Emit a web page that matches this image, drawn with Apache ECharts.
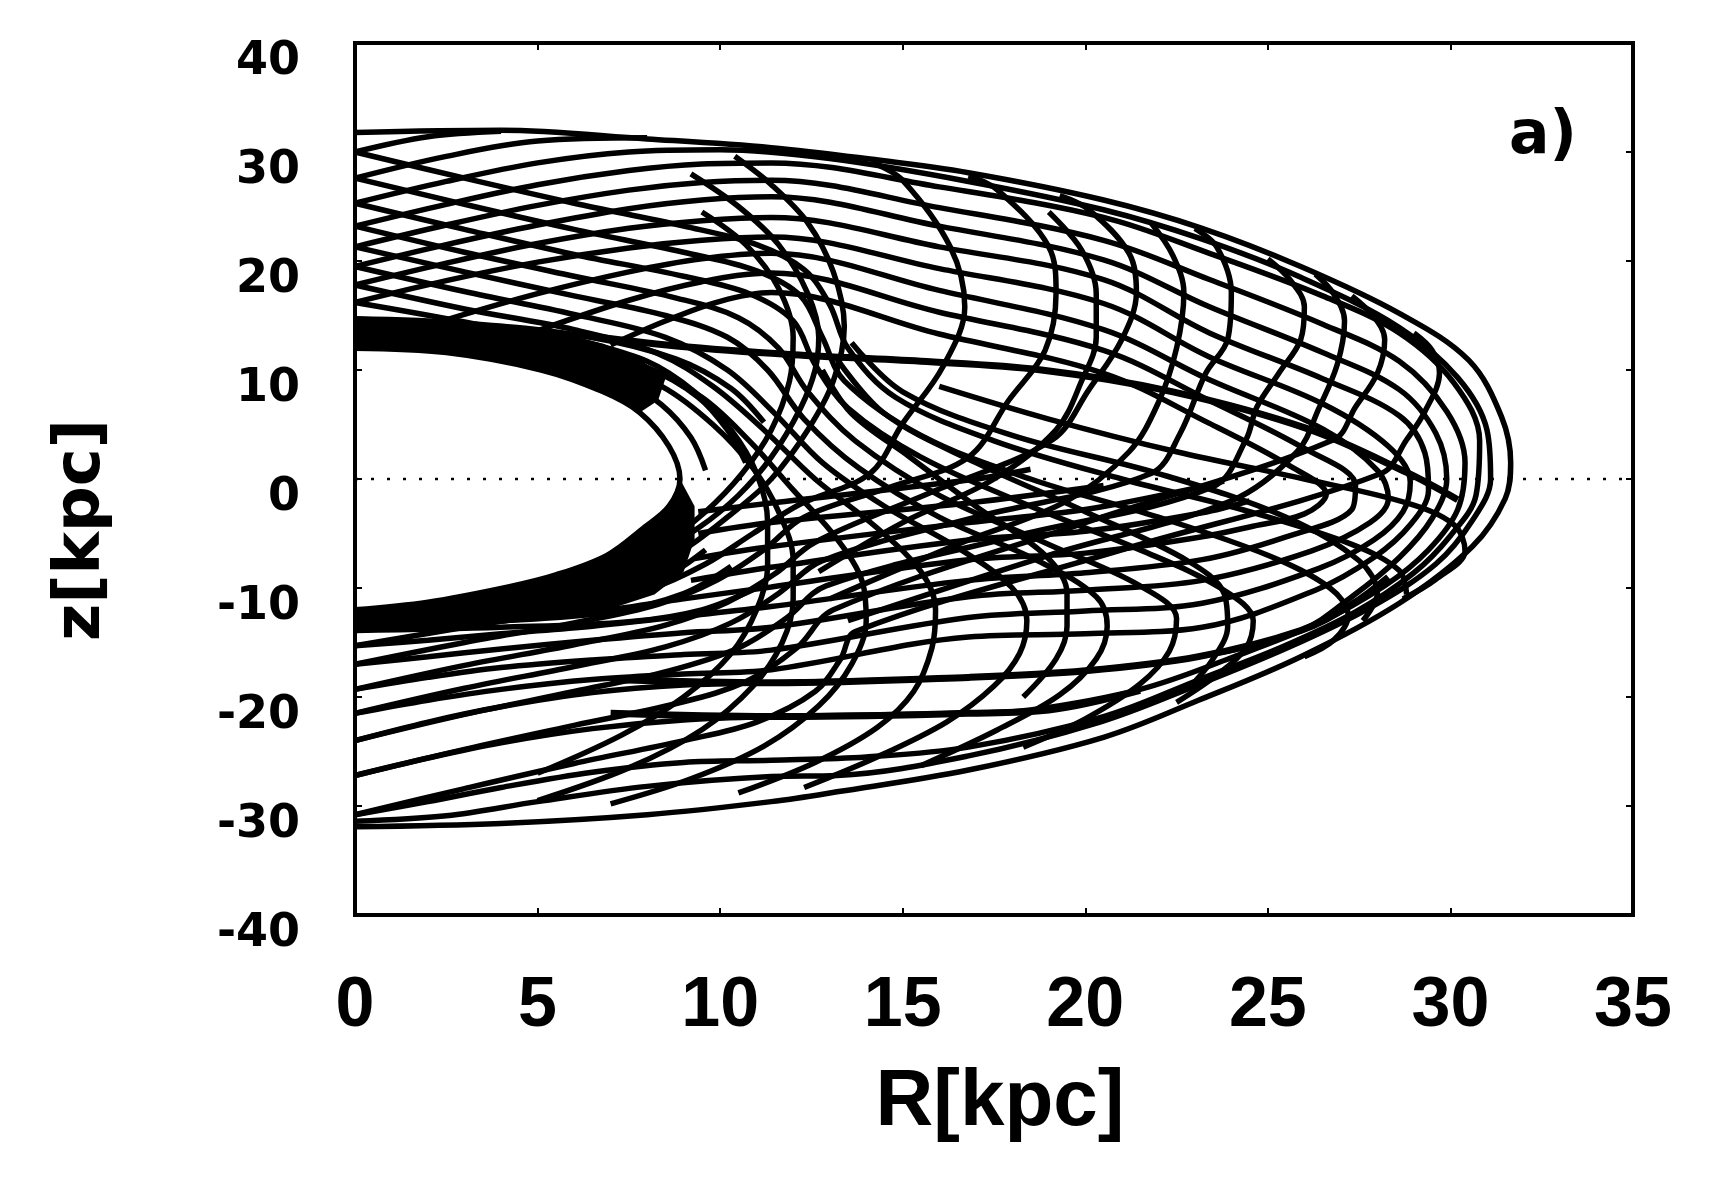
<!DOCTYPE html>
<html>
<head>
<meta charset="utf-8">
<script src="https://cdn.jsdelivr.net/npm/echarts/dist/echarts.min.js"></script>
<style>
html,body{margin:0;padding:0;background:#fff;}
#container{width:1713px;height:1182px;}
</style>
</head>
<body>
<div id="container"></div>
<script>
// tick labels
var xTicks = [0, 5, 10, 15, 20, 25, 30, 35];
var yTicks = [-40, -30, -20, -10, 0, 10, 20, 30, 40];

// dotted z = 0 line
var zeroLine = [[0, 0], [35, 0]];

// outer envelope of the orbit and the curve just inside it
var envelope = [[0,31.8],[4,32.0],[8,31.2],[11.4,30.4],[14,29.4],[16.8,28.1],[20.5,25.6],[23.2,23.0],[25.9,19.5],[28.6,15.2],[30.5,10.9],[31.4,5.7],[31.65,1.5],[31.5,-1.8],[30.6,-6.2],[28.6,-11.4],[25.9,-16.3],[23.1,-20.3],[20.5,-23.7],[16.8,-26.7],[13.2,-28.7],[11.4,-29.6],[8,-30.8],[4,-31.6],[0,-31.9]];
var envelope2 = [[0,25.3],[2.5,27.3],[5,29.0],[7.5,30.0],[10,30.2],[13,29.4],[16.8,27.3],[20.5,24.7],[23.2,22.0],[25.9,18.5],[28.6,13.9],[30.2,9.3],[31.0,4.5],[31.1,0],[30.6,-3.8],[29.6,-7.8],[27.8,-11.8],[25.6,-15.4],[23.0,-19.0],[20.4,-22.3],[16.8,-25.4],[13.2,-27.2],[11.4,-27.3],[8,-28.2],[5,-29.6],[2.5,-30.9],[0,-31.4]];
var topArm1 = [[0,27.6],[2.5,29.6],[5,31.0],[8,31.3]];
var topArm2 = [[0,30.0],[2,31.4],[4,31.9]];

// inner caustic, the solid dark zones along it and the strands packed there
var caustic = [[0,12.0],[2.5,11.6],[5.1,10.0],[6.8,8.0],[7.8,6.1],[8.6,3],[8.9,0],[8.6,-2.5],[7.9,-4.5],[6.9,-7.0],[5.5,-8.8],[4.2,-9.9],[2,-11.3],[0,-12.0]];
var darkUpper = [[0,14.9],[2,14.7],[4,14.2],[5.5,13.5],[6.8,12.4],[7.8,11.0],[8.5,9.2],[8.3,7.2],[7.8,6.1],[6.8,8.0],[5.1,10.0],[2.5,11.6],[0,12.0]];
var darkLower = [[8.9,0],[8.6,-2.5],[7.9,-4.5],[6.9,-7.0],[5.5,-8.8],[4.2,-9.9],[2,-11.3],[0,-12.0],[0,-13.9],[2,-13.7],[3.7,-13.4],[5.5,-12.8],[7,-11.9],[8.2,-10.6],[9.0,-8.5],[9.3,-5.5],[9.3,-2.5]];
var band1 = [[0,12.9],[3,12.5],[5.6,11.1],[7.3,9.1],[8.4,6.8],[9.2,3.8],[9.6,0.8]];
var band2 = [[0,13.8],[3,13.4],[6,12.1],[8,10.2],[9.4,7.5],[10.2,4.5],[10.7,1.5]];
var band3 = [[0,14.7],[3,14.3],[6.3,13.1],[8.8,11.0],[10.3,8.3],[11.2,5.2]];
var wedge1 = [[0,-12.3],[3,-11.0],[5.5,-9.2],[7.3,-6.8],[8.4,-4]];
var wedge2 = [[0,-12.7],[3,-11.8],[6,-10.2],[7.8,-8],[9,-5]];
var wedge3 = [[0,-13.1],[3,-12.5],[6,-11.3],[8.3,-9.3],[9.6,-6.5]];
var wedge4 = [[0,-13.5],[4,-13.0],[7,-12.2],[9,-10.5],[10.3,-8]];
var wedge5 = [[0,-13.9],[4,-13.6],[7.5,-13.1],[9.5,-12],[11,-10]];

// C shaped curves: upper left arm, upper strands to the tip, lower strands back
var c1 = [[0,23.2],[2.5,25.2],[5,27.0],[7.5,28.3],[9.5,28.9],[11.4,29.0],[16,26.8],[20.5,24.0],[23.4,20.7],[26.5,16.8],[28.6,13.4],[30.1,8.8],[30.8,3.5],[30.7,-1.5],[30.0,-5.2],[29.0,-8.6],[27.4,-12.2],[25.4,-15.4],[23.2,-18.3],[20.5,-21.8],[16.8,-24.6],[14,-25.5],[11.4,-25.8],[9,-26.0],[6.5,-26.9],[4,-28.3],[2,-29.6],[0,-30.8]];
var c2 = [[0,21.3],[2.5,23.3],[5,25.1],[7.5,26.5],[9.5,27.2],[11.4,27.4],[16,24.9],[20.5,21.9],[23.4,18.3],[26.5,14.2],[28.6,10.8],[29.9,6.2],[30.4,1.5],[30.2,-2.8],[29.4,-6.5],[28.2,-9.8],[26.4,-13.2],[24,-16.4],[21.5,-19.3],[18.5,-21.2],[16.8,-21.5],[11.4,-21.8],[9,-22.1],[6.5,-22.9],[4,-24.2],[2,-25.6],[0,-27.2]];
var c3 = [[0,19.5],[2.5,21.5],[5,23.3],[7.5,24.8],[9.5,25.6],[11.4,25.9],[16,23.2],[20.5,20.1],[23.4,15.8],[26.5,11.6],[28.6,8.2],[29.6,4.2],[29.9,0],[29.5,-3.6],[28.6,-7.2],[27.3,-10.8],[25.9,-13.9],[23.1,-16.3],[20,-17.6],[16.8,-18.2],[11.4,-18.7],[9,-18.9],[6.5,-19.6],[4,-20.9],[2,-22.3],[0,-24.0]];
var c4 = [[0,17.8],[2.5,19.8],[5,21.6],[7.5,23.0],[9.5,23.7],[11.4,24.0],[16,21.3],[20.5,18.3],[23.4,13.4],[26.5,9.2],[28.6,5.8],[29.3,2.4],[29.4,-1],[28.9,-4.2],[27.9,-7.2],[26.3,-10.2],[23.2,-13.6],[20,-14.2],[16.8,-14.5],[11.4,-17.5],[9,-17.9],[6.5,-18.4],[4,-19.3],[2,-20.3],[0,-21.5]];
var c5 = [[0,16.2],[2.5,18.2],[5,19.9],[7.5,21.2],[9.5,21.9],[11.4,22.2],[16,19.3],[20.5,16.1],[23.4,11.2],[26.5,6.9],[28.3,3.0],[28.9,-0.3],[28.7,-3.0],[27.9,-5.6],[26.4,-8.2],[23.2,-11.4],[20,-12.1],[16.8,-12.7],[11.4,-15.7],[9,-16.1],[6.5,-16.6],[4,-17.3],[2,-18.2],[0,-19.3]];
var c6 = [[2.5,14.6],[5,17.0],[7.5,19.0],[9.5,20.2],[11.4,20.7],[16,17.3],[20.5,13.7],[23.4,9.1],[26.5,4.6],[28.0,0.8],[28.3,-1.8],[27.8,-4.0],[26.2,-6.6],[23.2,-9.3],[20,-10.2],[16.8,-10.8],[11.4,-13.6],[9,-14.1],[6.5,-14.8],[4,-15.6],[2,-16.3],[0,-17.0]];
var c7 = [[5,13.6],[7.5,16.4],[9.5,18.1],[11.4,18.9],[16,15.3],[20.5,11.8],[23.4,7.2],[26,2.8],[27.4,-0.6],[27.3,-2.8],[25.5,-5.3],[23.2,-7.4],[20,-8.6],[16.8,-9.3],[11.4,-11.7],[9,-12.6],[6.5,-13.5],[4,-14.2],[2,-14.8],[0,-15.3]];
var c8 = [[7,12.3],[8.5,14.5],[10,16.3],[11.4,17.1],[16,13.3],[20.5,9.7],[23.4,5.1],[25.6,1.2],[26.6,-1.4],[26.0,-3.2],[24.5,-4.4],[23.2,-5.3],[20,-6.8],[16.8,-7.4],[11.4,-9.9],[9,-11.0],[6.5,-12.2],[4,-12.9],[2,-13.4],[0,-13.9]];
var lowF = [[24.5,-2.0],[23.2,-3.1],[20,-4.8],[16.8,-5.6],[11.4,-8.1],[9.2,-9.3]];
var lowG = [[23.8,-0.2],[23.2,-0.7],[20,-2.8],[16.8,-4.0],[11.4,-6.2],[9.3,-7.3]];
var lowH = [[20.5,-0.6],[16.8,-2.2],[11.4,-4.0],[9.4,-5.0]];
var lowI = [[18.5,0.9],[16.8,-0.1],[11.4,-2.2],[9.4,-3.0]];

// heavier strands
var thickUp = [[6,13.3],[8.8,12.2],[12,11.4],[15.5,10.8],[18.8,10.0],[22.4,8.0],[26.1,4.6],[28.8,0.6],[30.2,-1.9]];
var thickLow1 = [[7,-18.4],[11.4,-18.7],[16.8,-18.2],[20,-17.6],[23.1,-16.3],[25.9,-13.9],[27.3,-11.5],[28.3,-9]];
var thickLow2 = [[7,-21.5],[11.4,-21.8],[16.8,-21.5],[19,-21.2],[21.5,-19.4]];

// strands from the upper left edge down to the lower hooks
var x0 = [[16,8.5],[19,5.5],[22.5,2.5],[26,0],[28.8,-2.2],[30.1,-4.2],[30.4,-6.6],[29.6,-9.2],[28.7,-11]];
var x1 = [[0,30.0],[3,27.6],[6,25.3],[9,23.2],[11,21.5],[12.3,19.2],[13,16],[13.5,12],[14.8,7.5],[17.5,3.5],[21,0],[24.5,-3],[27.3,-6],[28.6,-8.4],[28.8,-10.6]];
var x2 = [[0,27.6],[3,25.2],[6,22.9],[9,20.8],[11,19.1],[12.2,16.8],[12.8,13],[13.4,9],[15.5,4],[18.5,0],[22,-3.5],[25,-7],[26.7,-10],[27.2,-12.5],[26.8,-14.8],[26,-16.3]];
var x3 = [[0,25.3],[3,22.9],[6,20.6],[9,18.6],[10.8,17],[12,14.5],[12.6,10.5],[13.5,6.5],[15.5,2],[18.5,-2.5],[21.5,-6.5],[23.7,-10],[24.6,-13],[24.4,-15.5],[23.6,-18],[22.5,-20.5]];
var x4 = [[0,23.2],[3,20.8],[6,18.6],[8.8,16.6],[10.5,14.8],[11.6,12],[12.4,8],[13.7,3.5],[16,-1.5],[19,-6],[21.5,-9.8],[22.5,-12.8],[22.3,-15.8],[21.5,-18.8],[20,-22],[18.3,-24.6]];
var x5 = [[0,21.3],[3,19],[6,16.8],[8.5,15],[10.2,13],[11.3,10],[12.3,5.5],[13.8,1],[16,-3.5],[18.7,-7.5],[20.3,-10.8],[20.6,-13.5],[20.3,-16.5],[19.3,-19.8],[17.6,-23],[15.5,-26.3]];
var x6 = [[0,19.5],[3,17.2],[6,15.1],[8.5,13],[10.2,10],[11.5,6],[12.8,1.5],[14.5,-2.5],[16.6,-6.5],[18,-10],[18.4,-13],[18.2,-16],[17.5,-19],[16.2,-22.3],[14.3,-25.5],[12.3,-28.3]];
var x7 = [[0,17.8],[3,15.6],[6,13.7],[8.3,11.5],[9.8,8.5],[11.2,4.5],[12.6,0],[14.3,-4.5],[15.5,-8.5],[15.9,-12],[15.8,-15.5],[15.3,-19.5],[14.3,-22.8],[12.6,-26],[10.5,-28.8]];
var x8 = [[0,16.2],[3,14.4],[5.5,12.6],[7.8,10.5],[9.5,7.5],[10.8,3.5],[12,-1],[13.2,-5.5],[13.9,-9.5],[14.0,-13],[13.6,-17],[12.7,-20.8],[11.2,-24.5],[9.2,-27.5],[7,-29.8]];
var x9 = [[4,12.5],[6.5,11],[8.4,8.5],[9.8,5],[10.9,1],[11.6,-3],[12,-7.5],[12.0,-11],[11.7,-15],[10.9,-19],[9.5,-23],[7.5,-26.5],[5,-29.5]];
var x10 = [[6,12.8],[8,10.8],[9.3,8],[10.3,4.5],[11,0.5],[11.3,-4],[11.3,-8],[11,-12],[10.3,-16],[9,-20],[7.3,-23.5],[5,-27]];
var xa = [[12.8,10],[13.6,6],[15.2,2],[17,-2.5],[18.9,-7],[19.5,-10.5],[19.5,-13.5],[19.2,-16.5],[18.3,-20]];
var xb = [[13.2,11],[14.5,6],[17,1.5],[20,-3],[22.8,-7.5],[23.8,-10.5],[23.9,-13.5],[23.5,-16.5],[22.8,-19.3]];
var xc = [[13.6,12.5],[15,8],[18,4],[22,0.5],[25.5,-3.5],[27.5,-7.5],[28,-10.5],[27.6,-13]];

// strands from the lower left edge up to the upper hooks
var y0 = [[4,-10.5],[6.5,-8.8],[8.4,-6],[9.6,-3],[10.6,0.5],[11.4,4.5],[11.9,9],[12,13],[11.6,17.5],[10.7,21.5],[9.5,24.5]];
var y1 = [[6,-9.5],[8,-7.3],[9.4,-4.5],[10.5,-1.5],[11.4,2],[12.2,6.5],[12.6,10],[12.7,13],[12.4,17],[11.6,21.5],[10.5,25],[9.2,28]];
var y2 = [[0,-13.9],[3,-12.5],[5.5,-11],[7.6,-9],[9,-6.5],[10.2,-3.5],[11.4,0],[12.4,4.5],[13.1,9],[13.4,14],[13.1,19],[12.4,23.5],[11.4,27],[10.4,29.6]];
var y3 = [[0,-15.3],[3,-13.6],[5.8,-12],[8,-10.2],[9.6,-7.8],[10.9,-5],[12.2,-2.3],[14.1,0.5],[15.0,5.1],[16.1,10.3],[16.7,15.8],[16.3,21.3],[15.0,27.4],[14.2,29]];
var y4 = [[0,-17],[3,-15],[6,-13.2],[8.3,-11.5],[9.9,-9.3],[11.2,-6.5],[12.3,-3.5],[14.6,-0.8],[16.8,2],[17.9,7.2],[18.9,11.8],[19.2,17.1],[19.0,21.3],[17.6,26.5],[16.8,27.8]];
var y5 = [[0,-19.3],[3,-17.1],[6,-15.2],[8.5,-13.4],[10.2,-11.3],[11.5,-8.7],[12.6,-5.8],[15.8,-1.2],[19.1,3.6],[20.1,8.2],[21.0,12.8],[21.4,17.1],[21.2,20.7],[20.1,24.7],[19.3,26]];
var y6 = [[0,-21.5],[3,-19.2],[6,-17.2],[8.5,-15.4],[10.3,-13.2],[11.6,-10.5],[12.8,-7.5],[17,-3.5],[21.8,0.5],[22.6,4.2],[23.3,9.7],[23.9,12.8],[24.0,17.1],[23.6,21.3],[23.0,23.0]];
var y7 = [[0,-24],[3,-21.6],[6,-19.5],[8.6,-17.6],[10.5,-15.5],[11.8,-12.8],[12.9,-9.8],[18,-5.3],[23.5,-0.7],[24.4,3.6],[24.7,6.6],[25.3,9.7],[25.9,12.8],[26.0,15.8],[25.6,18.3],[25.0,20.2]];
var y8 = [[0,-27.2],[3,-24.8],[6,-22.6],[8.8,-20.6],[10.7,-18.6],[12.1,-15.5],[13.1,-12],[20,-4],[26.8,3.6],[27.4,6.6],[28.0,9.7],[28.2,12.8],[27.9,14.9],[27.3,16.8]];
var y9 = [[0,-30.8],[3,-28.4],[6,-26.1],[9,-24],[11,-22.3],[12.6,-19.5],[13.3,-16.5],[13.7,-14],[21,-6.5],[28.1,0.5],[28.8,3.6],[29.3,6.2],[29.7,9.7],[29.5,11.8],[29.0,13.4]];
var ya = [[12.7,-8.5],[15,-4],[17.5,0],[19.2,4.5],[19.9,9],[20.3,13],[20.3,17],[19.9,21],[19,24.5]];
var yb = [[13,-11],[16.5,-6],[19.5,-2],[21.2,2.5],[22,7],[22.5,12],[22.7,17.1],[22.4,20.5],[21.8,23.5]];
var yc = [[13.5,-13],[19,-7],[24,-2],[25.8,2.5],[26.4,6.5],[26.9,10.5],[27.1,14.5],[26.8,17],[26.3,18.8]];

var thinCurves = [envelope, envelope2, topArm1, topArm2, caustic, band1, band2, band3,
	wedge1, wedge2, wedge3, wedge4, wedge5,
	c1, c2, c3, c4, c5, c6, c7, c8, lowF, lowG, lowH, lowI,
	x0, x1, x2, x3, x4, x5, x6, x7, x8, x9, x10, xa, xb, xc,
	y0, y1, y2, y3, y4, y5, y6, y7, y8, y9, ya, yb, yc];
var thickCurves = [thickUp, thickLow1, thickLow2];
var darkZones = [darkUpper, darkLower];

function curve(pts, w){
	return {
		type: 'line', data: pts, smooth: 0.35, symbol: 'none', silent: true,
		clip: true, z: 3, lineStyle: {color: '#000', width: w}
	};
}
function zone(pts){
	return {
		type: 'custom', data: [0], silent: true, clip: true, z: 2,
		renderItem: function (params, api){
			return {type: 'polygon', shape: {points: pts.map(function (p){ return api.coord(p); })}, style: {fill: '#000'}};
		}
	};
}

var series = [{
	type: 'line', data: zeroLine, symbol: 'none', silent: true, z: 1,
	lineStyle: {color: '#000', width: 2.5, type: [3, 13]}
}];
darkZones.forEach(function (d){ series.push(zone(d)); });
thinCurves.forEach(function (c){ series.push(curve(c, 5.5)); });
thickCurves.forEach(function (c){ series.push(curve(c, 7)); });

var tickStyle = {show: true, inside: true, length: 7, lineStyle: {color: '#000', width: 2}};
function axis(kind, pos){
	var a = {type: 'value', position: pos, axisLine: {show: false, onZero: false}, axisTick: tickStyle, axisLabel: {show: false}, splitLine: {show: false}};
	if (kind == 'x') { a.min = 0; a.max = 35; a.interval = 5; }
	else { a.min = -40; a.max = 40; a.interval = 10; }
	return a;
}
var option = {
	animation: false,
	backgroundColor: '#fff',
	grid: {left: 355, top: 43, width: 1278, height: 872, show: true, borderColor: '#000', borderWidth: 4},
	xAxis: [axis('x', 'bottom'), axis('x', 'top')],
	yAxis: [axis('y', 'left'), axis('y', 'right')],
	series: series
};

var myChart = echarts.init(document.getElementById('container'));
myChart.setOption(option);

//tick labels and titles drawn as text at the axis positions
function txt(x, y, s, font, align, rot){
	return {
		type: 'text', x: x, y: y, rotation: rot || 0, z: 10, silent: true,
		style: {text: s, font: font, fill: '#000', textAlign: align, textVerticalAlign: 'middle', align: align, verticalAlign: 'middle'}
	};
}
var labels = [];
xTicks.forEach(function (v){
	var px = myChart.convertToPixel({xAxisIndex: 0}, v);
	labels.push(txt(px, 1007, String(v), 'bold 70px "Liberation Sans", Arial, sans-serif', 'center'));
});
yTicks.forEach(function (v){
	var py = myChart.convertToPixel({yAxisIndex: 0}, v);
	labels.push(txt(300, py + 19, String(v), 'bold 46px "DejaVu Sans", sans-serif', 'right'));
});
labels.push(txt(1000, 1103, 'R[kpc]', 'bold 80px "Liberation Sans", Arial, sans-serif', 'center'));
labels.push(txt(82, 530, 'z[kpc]', 'bold 64px "DejaVu Sans", sans-serif', 'center', Math.PI / 2));
labels.push(txt(1543, 137, 'a)', 'bold 60px "DejaVu Sans", sans-serif', 'center'));
myChart.setOption({graphic: labels});
</script>
</body>
</html>
